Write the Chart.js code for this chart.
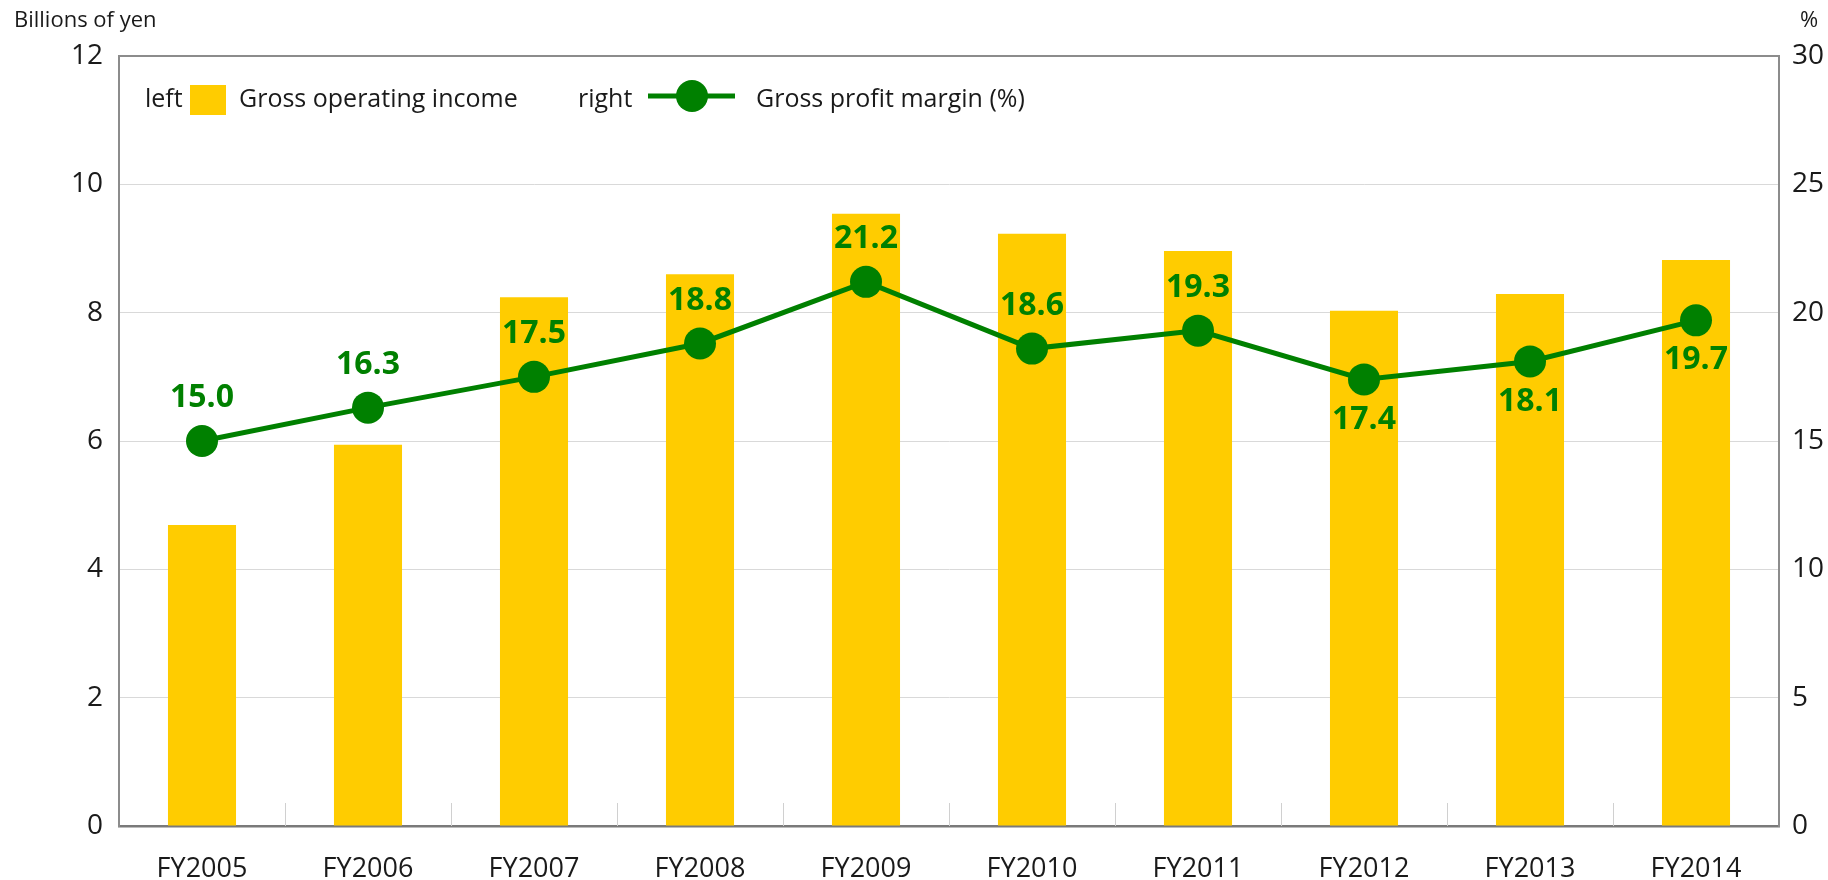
<!DOCTYPE html>
<html>
<head>
<meta charset="utf-8">
<style>
  html, body { margin: 0; padding: 0; background: #fff; }
  #wrap { width: 1828px; height: 880px; }
</style>
<script src="https://cdn.jsdelivr.net/npm/chart.js@4.4.1/dist/chart.umd.min.js"></script>
</head>
<body>
<div id="wrap"><canvas id="grossChart" width="1828" height="880"></canvas></div>
<script>
// data
const years = ["FY2005", "FY2006", "FY2007", "FY2008", "FY2009", "FY2010", "FY2011", "FY2012", "FY2013", "FY2014"];
const grossIncome = [4.69, 5.94, 8.24, 8.60, 9.54, 9.23, 8.96, 8.03, 8.29, 8.82];   // billions of yen, left axis
const grossMargin = [15.0, 16.3, 17.5, 18.8, 21.2, 18.6, 19.3, 17.4, 18.1, 19.7];   // %, right axis
const marginLabelSide = ["up", "up", "up", "up", "up", "up", "up", "down", "down", "down"];
const leftMax = 12, leftStep = 2;
const rightMax = 30, rightStep = 5;

const YELLOW = "#ffcc00";
const GREEN = "#008000";
const TEXT = "#1a1a1a";
const AXIS = "#8c8c8c";
const FONT = "'Open Sans', 'Noto Sans', sans-serif";

// unit captions + in-plot legend
const captionsAndLegend = {
  id: "captionsAndLegend",
  afterDraw(chart) {
    const ctx = chart.ctx;
    const [bars, line] = chart.data.datasets;
    ctx.save();
    ctx.fillStyle = TEXT;
    ctx.textBaseline = "middle";
    ctx.font = "22px " + FONT;
    ctx.textAlign = "left";
    ctx.fillText("Billions of yen", 14, 21);
    ctx.fillText("%", 1800, 21);

    ctx.font = "25px " + FONT;
    const ly = 100;
    ctx.fillText("left", 145, ly);
    ctx.fillStyle = bars.backgroundColor;
    ctx.fillRect(190, 85, 36, 30);
    ctx.fillStyle = TEXT;
    ctx.fillText(bars.label, 239, ly);

    ctx.fillText("right", 578, ly);
    ctx.strokeStyle = line.borderColor;
    ctx.lineWidth = line.borderWidth;
    ctx.beginPath();
    ctx.moveTo(648, ly - 4);
    ctx.lineTo(735, ly - 4);
    ctx.stroke();
    ctx.fillStyle = line.pointBackgroundColor;
    ctx.beginPath();
    ctx.arc(692, ly - 4, line.pointRadius, 0, Math.PI * 2);
    ctx.fill();
    ctx.fillStyle = TEXT;
    ctx.fillText(line.label, 756, ly);
    ctx.restore();
  }
};

// short separators between categories, rising from the bottom axis
const categoryTicks = {
  id: "categoryTicks",
  beforeDatasetsDraw(chart) {
    const xs = chart.scales.x;
    const bottom = chart.chartArea.bottom;
    const ctx = chart.ctx;
    ctx.save();
    ctx.strokeStyle = "#d0d0d0";
    ctx.lineWidth = 1;
    for (let i = 1; i < years.length; i++) {
      const x = Math.round((xs.getPixelForValue(i - 1) + xs.getPixelForValue(i)) / 2) + 0.5;
      ctx.beginPath();
      ctx.moveTo(x, bottom);
      ctx.lineTo(x, bottom - 23);
      ctx.stroke();
    }
    ctx.restore();
  }
};

// value labels on the margin line
const marginLabels = {
  id: "marginLabels",
  afterDatasetsDraw(chart) {
    const meta = chart.getDatasetMeta(1);
    const ctx = chart.ctx;
    ctx.save();
    ctx.font = "bold 32px " + FONT;
    ctx.fillStyle = GREEN;
    ctx.textAlign = "center";
    ctx.textBaseline = "middle";
    meta.data.forEach((pt, i) => {
      const dy = marginLabelSide[i] === "up" ? -43 : 40;
      ctx.fillText(grossMargin[i].toFixed(1), pt.x, pt.y + dy);
    });
    ctx.restore();
  }
};

new Chart(document.getElementById("grossChart"), {
  data: {
    labels: years,
    datasets: [
      {
        type: "bar",
        label: "Gross operating income",
        data: grossIncome,
        yAxisID: "y",
        backgroundColor: YELLOW,
        borderWidth: 0,
        categoryPercentage: 1,
        barPercentage: 0.41,
        order: 2
      },
      {
        type: "line",
        label: "Gross profit margin (%)",
        data: grossMargin,
        yAxisID: "y1",
        borderColor: GREEN,
        borderWidth: 5,
        pointRadius: 16,
        pointBackgroundColor: GREEN,
        pointBorderWidth: 0,
        tension: 0,
        order: 1
      }
    ]
  },
  options: {
    responsive: false,
    animation: false,
    layout: { padding: { top: 56, left: 0, right: 0, bottom: 0 } },
    plugins: {
      legend: { display: false },
      tooltip: { enabled: false }
    },
    scales: {
      x: {
        afterFit: (s) => { s.height = 54; },
        grid: { display: false, drawTicks: false },
        border: { color: "#7a7a7a", width: 2.5 },
        ticks: { color: TEXT, padding: 27, font: { family: FONT, size: 27 }, maxRotation: 0 }
      },
      y: {
        position: "left",
        min: 0, max: leftMax,
        afterFit: (s) => { s.width = 119; },
        grid: {
          drawTicks: false,
          color: (c) => c.tick && c.tick.value === leftMax ? AXIS : "#d9d9d9",
          lineWidth: (c) => c.tick && c.tick.value === leftMax ? 2 : 1
        },
        border: { color: AXIS, width: 2 },
        ticks: { stepSize: leftStep, color: TEXT, padding: 16, font: { family: FONT, size: 28 } }
      },
      y1: {
        position: "right",
        min: 0, max: rightMax,
        afterFit: (s) => { s.width = 49; },
        grid: { drawOnChartArea: false, drawTicks: false },
        border: { color: AXIS, width: 2 },
        ticks: { stepSize: rightStep, color: TEXT, padding: 13, font: { family: FONT, size: 28 } }
      }
    }
  },
  plugins: [categoryTicks, marginLabels, captionsAndLegend]
});
</script>
</body>
</html>
